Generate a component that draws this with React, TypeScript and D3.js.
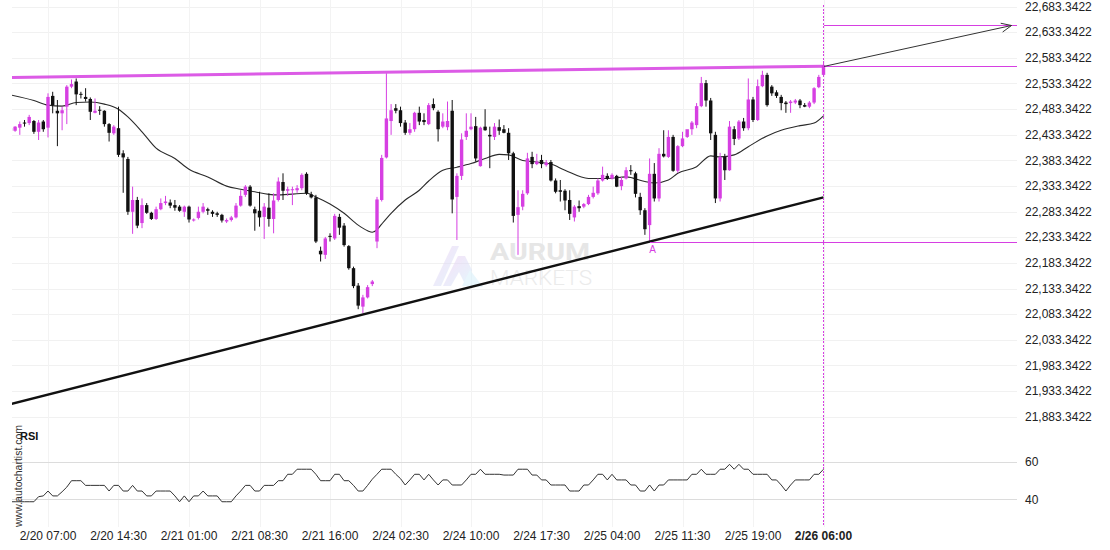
import React from "react";
import * as d3 from "d3";

// ---------- data ----------
const xLabels = ["2/20 07:00", "2/20 14:30", "2/21 01:00", "2/21 08:30", "2/21 16:00", "2/24 02:30", "2/24 10:00", "2/24 17:30", "2/25 04:00", "2/25 11:30", "2/25 19:00", "2/26 06:00"];
const xLabelBars = [8, 23, 38, 53, 68, 83, 98, 113, 128, 143, 158, 173];
const priceTicks = [21883.3422, 21933.3422, 21983.3422, 22033.3422, 22083.3422, 22133.3422, 22183.3422, 22233.3422, 22283.3422, 22333.3422, 22383.3422, 22433.3422, 22483.3422, 22533.3422, 22583.3422, 22633.3422, 22683.3422];
const rsiTicks = [40, 60];

const opens = [22446, 22441, 22447, 22457, 22456, 22460, 22439, 22459, 22447, 22509,
  22480, 22475, 22488, 22527, 22537, 22513, 22507, 22503, 22476, 22482,
  22480, 22454, 22436, 22446, 22397, 22386, 22283, 22306, 22261, 22296,
  22281, 22269, 22288, 22300, 22301, 22296, 22293, 22283, 22293, 22266,
  22271, 22283, 22288, 22283, 22280, 22277, 22264, 22267, 22272, 22295,
  22316, 22332, 22288, 22285, 22273, 22291, 22269, 22306, 22341, 22324,
  22325, 22325, 22329, 22357, 22317, 22311, 22207, 22199, 22236, 22231,
  22273, 22256, 22216, 22173, 22139, 22098, 22116, 22142, 22225, 22306,
  22389, 22460, 22485, 22481, 22457, 22437, 22444, 22476, 22462, 22454,
  22493, 22478, 22449, 22448, 22480, 22312, 22353, 22429, 22444, 22450,
  22372, 22449, 22433, 22429, 22448, 22444, 22437, 22397, 22277, 22293,
  22319, 22390, 22376, 22384, 22374, 22380, 22344, 22325, 22324, 22306,
  22272, 22294, 22293, 22298, 22312, 22319, 22344, 22353, 22348, 22353,
  22333, 22348, 22364, 22358, 22312, 22286, 22257, 22357, 22309, 22396,
  22390, 22429, 22363, 22411, 22429, 22444, 22452, 22489, 22534, 22500,
  22433, 22309, 22390, 22364, 22444, 22426, 22459, 22446, 22502, 22462,
  22528, 22550, 22527, 22516, 22507, 22496, 22495, 22496, 22500, 22491,
  22488, 22496, 22526, 22550];
const highs = [22448, 22450, 22459, 22462, 22472, 22462, 22462, 22462, 22514, 22517,
  22501, 22488, 22530, 22541, 22543, 22517, 22524, 22506, 22504, 22489,
  22481, 22456, 22452, 22488, 22403, 22390, 22332, 22312, 22309, 22300,
  22283, 22293, 22309, 22314, 22307, 22306, 22296, 22295, 22295, 22270,
  22293, 22300, 22291, 22286, 22283, 22279, 22270, 22275, 22300, 22325,
  22335, 22335, 22293, 22322, 22300, 22319, 22319, 22350, 22358, 22332,
  22332, 22335, 22358, 22360, 22322, 22316, 22215, 22234, 22241, 22279,
  22279, 22261, 22218, 22176, 22144, 22121, 22140, 22150, 22312, 22394,
  22553, 22493, 22493, 22488, 22462, 22456, 22478, 22488, 22475, 22495,
  22504, 22481, 22475, 22498, 22501, 22358, 22436, 22475, 22475, 22468,
  22449, 22483, 22449, 22456, 22463, 22452, 22446, 22400, 22325, 22325,
  22398, 22400, 22396, 22394, 22384, 22384, 22348, 22345, 22327, 22325,
  22296, 22305, 22300, 22316, 22332, 22348, 22371, 22358, 22358, 22355,
  22351, 22370, 22374, 22361, 22320, 22290, 22387, 22378, 22407, 22442,
  22442, 22433, 22413, 22439, 22442, 22460, 22495, 22546, 22540, 22505,
  22439, 22398, 22396, 22460, 22450, 22462, 22466, 22543, 22507, 22541,
  22558, 22554, 22530, 22520, 22511, 22499, 22501, 22503, 22503, 22495,
  22499, 22526, 22550, 22573];
const lows = [22439, 22439, 22433, 22449, 22452, 22435, 22423, 22439, 22428, 22475,
  22411, 22442, 22454, 22524, 22491, 22504, 22498, 22462, 22475, 22472,
  22449, 22420, 22433, 22390, 22320, 22277, 22240, 22251, 22251, 22279,
  22267, 22267, 22286, 22296, 22290, 22285, 22283, 22273, 22262, 22264,
  22268, 22280, 22277, 22273, 22273, 22262, 22261, 22264, 22270, 22293,
  22312, 22293, 22246, 22254, 22230, 22254, 22241, 22303, 22306, 22314,
  22296, 22320, 22325, 22316, 22309, 22222, 22186, 22191, 22225, 22228,
  22238, 22215, 22170, 22134, 22093, 22085, 22114, 22138, 22212, 22303,
  22387, 22433, 22475, 22449, 22433, 22433, 22439, 22452, 22452, 22452,
  22481, 22420, 22446, 22442, 22280, 22228, 22345, 22423, 22442, 22381,
  22371, 22441, 22368, 22423, 22433, 22436, 22384, 22262, 22199, 22286,
  22316, 22368, 22374, 22368, 22371, 22342, 22319, 22303, 22286, 22267,
  22264, 22283, 22290, 22296, 22309, 22316, 22342, 22345, 22346, 22331,
  22325, 22346, 22355, 22311, 22277, 22238, 22225, 22303, 22303, 22389,
  22388, 22361, 22359, 22409, 22427, 22433, 22446, 22487, 22488, 22423,
  22300, 22303, 22345, 22363, 22413, 22423, 22441, 22442, 22458, 22460,
  22526, 22488, 22509, 22505, 22481, 22476, 22476, 22493, 22485, 22487,
  22485, 22493, 22524, 22548];
const closes = [22441, 22449, 22454, 22456, 22468, 22439, 22457, 22444, 22507, 22491,
  22475, 22481, 22527, 22532, 22512, 22512, 22503, 22478, 22480, 22481,
  22454, 22437, 22449, 22394, 22389, 22283, 22306, 22256, 22296, 22281,
  22269, 22288, 22300, 22303, 22295, 22291, 22285, 22293, 22268, 22268,
  22283, 22293, 22285, 22279, 22277, 22266, 22267, 22272, 22295, 22314,
  22332, 22295, 22280, 22272, 22293, 22269, 22305, 22342, 22324, 22327,
  22327, 22329, 22355, 22319, 22311, 22225, 22200, 22231, 22234, 22275,
  22252, 22218, 22173, 22138, 22100, 22116, 22136, 22147, 22307, 22388,
  22465, 22481, 22480, 22456, 22437, 22444, 22476, 22459, 22458, 22491,
  22485, 22444, 22459, 22460, 22307, 22353, 22424, 22441, 22449, 22387,
  22447, 22442, 22430, 22449, 22441, 22437, 22397, 22275, 22292, 22318,
  22387, 22376, 22381, 22376, 22379, 22344, 22322, 22322, 22305, 22279,
  22293, 22290, 22298, 22312, 22320, 22344, 22355, 22348, 22355, 22332,
  22345, 22364, 22363, 22318, 22286, 22249, 22357, 22309, 22396, 22391,
  22429, 22363, 22411, 22426, 22444, 22457, 22489, 22534, 22500, 22436,
  22309, 22390, 22364, 22449, 22425, 22459, 22446, 22502, 22462, 22528,
  22550, 22491, 22514, 22509, 22495, 22493, 22498, 22500, 22491, 22488,
  22496, 22524, 22546, 22569];

// moving average: [bar, price]
const maPoints: [number, number][] = [
  [0, 22511], [5, 22500], [8, 22491], [11, 22489], [14, 22496], [17, 22497], [20, 22493], [23, 22483],
  [25, 22468], [28, 22439], [31, 22407], [35, 22387], [38, 22366], [42, 22351], [46, 22333], [49, 22327],
  [52, 22322], [55, 22317], [57, 22316], [63, 22319], [65, 22312], [68, 22298], [71, 22280], [74, 22257],
  [76, 22246], [77, 22243], [78, 22248], [79, 22259], [81, 22280], [84, 22306], [87, 22325], [89, 22343],
  [92, 22364], [95, 22370], [98, 22377], [101, 22387], [104, 22395], [106, 22394], [109, 22383], [112, 22380],
  [115, 22376], [118, 22364], [123, 22348], [127, 22348], [131, 22351], [135, 22342], [137, 22339], [140, 22345],
  [142, 22358], [146, 22371], [149, 22392], [151, 22390], [154, 22394], [157, 22410], [161, 22431], [164, 22442],
  [168, 22451], [171, 22456], [173, 22470]];

const rsi = [38.7, 38.7, 38.7, 38.7, 38.7, 38.7, 41.4, 41.8, 44.4, 41.8,
  41.8, 44.0, 46.5, 49.9, 49.9, 49.9, 47.4, 47.4, 47.4, 47.4,
  47.4, 44.4, 47.4, 47.4, 44.4, 44.4, 47.4, 44.4, 44.4, 41.8,
  41.8, 44.4, 44.4, 44.4, 44.4, 41.8, 38.7, 41.8, 38.7, 41.8,
  41.8, 44.4, 41.8, 41.8, 41.8, 38.7, 38.7, 38.7, 41.8, 44.4,
  47.4, 47.4, 44.4, 44.4, 47.4, 47.4, 47.4, 49.9, 49.9, 53.3,
  53.3, 56.0, 56.0, 56.0, 56.0, 53.3, 49.9, 49.9, 49.9, 53.3,
  53.3, 49.9, 49.9, 47.4, 44.4, 44.4, 47.4, 50.7, 53.3, 56.0,
  56.0, 56.0, 53.3, 51.0, 47.6, 50.3, 53.3, 53.3, 50.3, 53.3,
  50.3, 47.6, 50.3, 50.3, 47.6, 47.6, 47.6, 50.3, 53.3, 53.3,
  56.0, 53.3, 53.3, 53.3, 53.3, 52.9, 52.9, 52.9, 56.0, 56.0,
  56.0, 52.9, 52.9, 50.3, 50.3, 47.6, 47.6, 47.6, 47.6, 44.4,
  44.4, 44.4, 47.6, 47.6, 50.3, 53.3, 53.3, 50.3, 53.3, 50.3,
  50.3, 50.3, 47.6, 47.6, 44.4, 44.4, 47.6, 44.4, 47.6, 47.6,
  50.3, 50.3, 50.3, 50.3, 50.3, 53.3, 53.3, 56.0, 53.3, 53.3,
  53.3, 56.0, 56.0, 58.6, 56.0, 58.6, 56.0, 56.0, 53.3, 53.3,
  53.3, 53.3, 50.3, 50.3, 47.6, 44.4, 47.6, 50.3, 50.3, 50.3,
  50.3, 53.3, 53.3, 56.0];

// pattern lines
const resistance: [number, number][] = [[0, 22545], [173, 22567]];
const support: [number, number][] = [[0, 21908], [173, 22311]];
const breakoutLevel = 22567;
const targetLevel = 22648;
const pointA: [number, number] = [136, 22225];
const lastBar = 173;
const arrowEndBar = 213;

// ---------- styling ----------
const MAG = "#d63fe2";
const FONT = "'Liberation Sans', Arial, sans-serif";
const cr = (v: number) => Math.round(v) + 0.5;

export default function App() {
  const W = 1110, H = 550;
  const plotL = 12, plotR = 1017;
  const x = d3.scaleLinear().domain([0, 173]).range([10.4, 823.5]);
  const y = d3.scaleLinear().domain([21883.3422, 22683.3422]).range([416.7, 6.5]);
  const yr = d3.scaleLinear().domain([40, 60]).range([499.3, 461.7]);
  const fmt = d3.format(",.4f");
  const bw = 3.4;

  const maLine = d3.line<[number, number]>().x(d => x(d[0])).y(d => y(d[1])).curve(d3.curveMonotoneX);
  const rsiLine = d3.line<number>().x((_, i) => x(i)).y(d => yr(d));

  const vx = Math.floor(x(lastBar)) + 0.5;
  const ay = cr(y(breakoutLevel));
  const bx = x(arrowEndBar), by = cr(y(targetLevel));
  const ang = Math.atan2(by - ay, bx - vx);
  const ah = 11, aw = 0.42;
  const h1 = [bx - ah * Math.cos(ang - aw), by - ah * Math.sin(ang - aw)];
  const h2 = [bx - ah * Math.cos(ang + aw), by - ah * Math.sin(ang + aw)];
  const aY = cr(y(pointA[1]));

  return (
    <svg width={W} height={H} style={{ position: "absolute", left: 0, top: 0, background: "#fff" }} fontFamily={FONT}>
      <defs>
        <clipPath id="plot"><rect x={plotL} y={0} width={plotR - plotL} height={422} /></clipPath>
        <clipPath id="rsiclip"><rect x={plotL} y={425} width={plotR - plotL} height={100} /></clipPath>
        <linearGradient id="logo" x1="0" y1="0" x2="1" y2="1">
          <stop offset="0" stopColor="#efc9f2" />
          <stop offset="1" stopColor="#cfeefa" />
        </linearGradient>
      </defs>

      {/* grid */}
      {priceTicks.map(t => (
        <line key={"g" + t} x1={plotL} x2={plotR} y1={cr(y(t))} y2={cr(y(t))} stroke="#f1f1f1" strokeWidth={1} />
      ))}
      {xLabelBars.map(b => (
        <line key={"v" + b} x1={cr(x(b))} x2={cr(x(b))} y1={0} y2={527} stroke="#f3f3f3" strokeWidth={1} />
      ))}
      {rsiTicks.map(t => (
        <line key={"r" + t} x1={plotL} x2={plotR} y1={cr(yr(t))} y2={cr(yr(t))} stroke="#dcdcdc" strokeWidth={1} />
      ))}

      {/* watermark */}
      <g opacity={0.55}>
        <path d="M433,286 L452,246 L459,246 L441,286 Z" fill="url(#logo)" />
        <path d="M443,286 L458,256 L465,256 L472,270 L466,286 L459,272 L451,286 Z" fill="url(#logo)" />
        <path d="M462,286 L470,270 L483,287 Z" fill="#d6f0fb" />
      </g>
      <text x={490} y={260} fontSize={24} fontWeight="bold" fill="#e6e6e6" textLength={100} lengthAdjust="spacingAndGlyphs"
        fontFamily="Roboto, 'Liberation Sans', sans-serif">AURUM</text>
      <text x={490} y={285} fontSize={21} fontWeight={300} fill="#ebebeb" textLength={102} lengthAdjust="spacingAndGlyphs"
        fontFamily="Roboto, 'Liberation Sans', sans-serif">MARKETS</text>

      <g clipPath="url(#plot)">
        {/* MA */}
        <path d={maLine(maPoints) || ""} fill="none" stroke="#2a2a2a" strokeWidth={1.1} />
        {/* candles */}
        {opens.map((o, i) => {
          const c = closes[i];
          const up = c > o;
          const col = up ? MAG : "#111";
          const top = y(Math.max(o, c));
          const bh = Math.max(1, y(Math.min(o, c)) - top);
          return (
            <g key={i}>
              <line x1={x(i)} x2={x(i)} y1={y(highs[i])} y2={y(lows[i])} stroke={col} strokeWidth={1} />
              <rect x={x(i) - bw / 2} y={top} width={bw} height={bh} fill={col} />
            </g>
          );
        })}
        {/* resistance */}
        <line x1={x(resistance[0][0])} y1={y(resistance[0][1])} x2={x(resistance[1][0])} y2={y(resistance[1][1])}
          stroke={MAG} strokeWidth={3} opacity={0.85} />
        {/* support */}
        <line x1={x(support[0][0])} y1={y(support[0][1])} x2={x(support[1][0])} y2={y(support[1][1])}
          stroke="#111" strokeWidth={2.4} />
      </g>

      {/* levels */}
      <line x1={x(pointA[0])} x2={plotR} y1={aY} y2={aY} stroke={MAG} strokeWidth={1} shapeRendering="crispEdges" />
      <text x={x(pointA[0]) + 3} y={aY + 10} fontSize={10} fill={MAG} textAnchor="middle">A</text>
      <line x1={vx} x2={plotR} y1={ay} y2={ay} stroke={MAG} strokeWidth={1} shapeRendering="crispEdges" />
      <line x1={vx} x2={plotR} y1={by} y2={by} stroke={MAG} strokeWidth={1} shapeRendering="crispEdges" />
      <line x1={vx} y1={ay} x2={bx} y2={by} stroke="#333" strokeWidth={1} />
      <polyline points={`${h1[0]},${h1[1]} ${bx},${by} ${h2[0]},${h2[1]}`} fill="none" stroke="#333" strokeWidth={1} />

      {/* vertical dashed current bar */}
      <line x1={vx} x2={vx} y1={5} y2={526} stroke={MAG} strokeWidth={1} strokeDasharray="2,1.5" shapeRendering="crispEdges" />

      {/* RSI */}
      <g clipPath="url(#rsiclip)">
        <path d={rsiLine(rsi) || ""} fill="none" stroke="#333" strokeWidth={1} />
      </g>
      <text x={20} y={440} fontSize={11} fontWeight="bold" fill="#111">RSI</text>
      <text transform="translate(21.5,527) rotate(-90)" fontSize={10.5} fill="#333">www.autochartist.com</text>

      {/* y labels */}
      {priceTicks.map(t => (
        <text key={"l" + t} x={1025} y={y(t)} dy="0.35em" fontSize={12} fill="#222">{fmt(t)}</text>
      ))}
      {rsiTicks.map(t => (
        <text key={"rl" + t} x={1025} y={yr(t)} dy="0.35em" fontSize={12} fill="#222">{t}</text>
      ))}

      {/* x labels */}
      {xLabels.map((l, k) => (
        <text key={l} x={x(xLabelBars[k])} y={540} fontSize={12} textAnchor="middle"
          fontWeight={k === xLabels.length - 1 ? "bold" : "normal"} fill="#222">{l}</text>
      ))}
    </svg>
  );
}
